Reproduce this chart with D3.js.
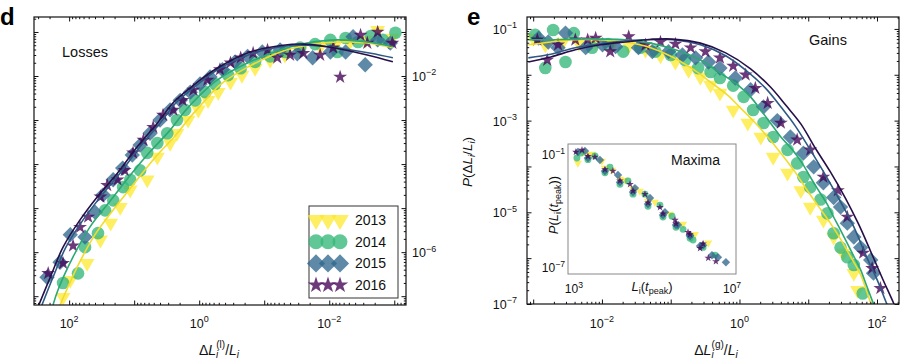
<!DOCTYPE html>
<html>
<head>
<meta charset="utf-8">
<script src="https://cdn.jsdelivr.net/npm/d3@7"></script>
<style>
  body { margin: 0; background: #fff; }
  svg { display: block; font-family: "Liberation Sans", Arial, Helvetica, sans-serif; }
</style>
</head>
<body>
<svg id="chart" width="900" height="363"></svg>
<script>
const years = ['2013', '2014', '2015', '2016'];

// panel d, losses: [ΔL/L, P]
const loss2013 = [[124,9.5e-8],[96,2.3e-7],[53,5.6e-7],[33,1.9e-6],[23,4.6e-6],[16.4,1.05e-5],[11.5,2.6e-5],[6.3,4.4e-5],[4.4,1.45e-4],[2.8,3.0e-4],[2.2,5.0e-4],[1.48,1.0e-3],[1.03,1.7e-3],[0.73,2.8e-3],[0.51,4.3e-3],[0.33,7.3e-3],[0.22,1.05e-2],[0.138,1.5e-2],[0.081,2.3e-2],[0.048,3.0e-2],[0.028,3.9e-2],[0.0138,4.6e-2],[0.0081,5.0e-2],[0.0048,5.9e-2],[0.0028,6.6e-2],[0.0018,0.11],[0.00107,7.3e-2]];
const loss2014 = [[124,2.0e-7],[73,3.3e-7],[57,1.3e-6],[36,2.7e-6],[28,8.9e-6],[21,1.5e-5],[14.8,3.0e-5],[11.5,4.4e-5],[8.1,7.2e-5],[6.3,1.8e-4],[4.4,3.0e-4],[3.1,5.0e-4],[2.2,1.0e-3],[1.65,1.7e-3],[1.15,2.8e-3],[0.81,4.3e-3],[0.57,6.6e-3],[0.36,1.05e-2],[0.23,1.5e-2],[0.138,2.1e-2],[0.081,2.8e-2],[0.048,3.5e-2],[0.028,4.4e-2],[0.0165,5.3e-2],[0.0096,6.6e-2],[0.0075,3.5e-2],[0.0056,7.3e-2],[0.0036,5.9e-2],[0.0023,8.1e-2],[0.0015,6.6e-2],[0.00096,9.6e-2]];
const loss2015 = [[219,2.7e-7],[138,5.9e-7],[96,2.5e-6],[57,2.2e-6],[40,8.1e-6],[30,2.0e-5],[21,4.4e-5],[15,8.1e-5],[10.7,1.6e-4],[8.1,2.7e-4],[5.7,5.0e-4],[4.0,1.0e-3],[2.8,1.7e-3],[1.96,2.8e-3],[1.37,4.3e-3],[0.97,6.6e-3],[0.68,9.5e-3],[0.44,1.4e-2],[0.28,2.1e-2],[0.18,2.8e-2],[0.107,3.5e-2],[0.057,3.9e-2],[0.031,3.2e-2],[0.018,2.6e-2],[0.0096,3.5e-2],[0.0056,3.5e-2],[0.0043,7.8e-2],[0.0028,1.8e-2],[0.0018,6.6e-2],[0.00115,5.6e-2]];
const loss2016 = [[210,3.3e-7],[124,5.6e-7],[87,1.4e-6],[68,3.7e-6],[51,6.3e-6],[33,1.8e-5],[26,3.3e-5],[18,4.4e-5],[14,7.2e-5],[10.4,1.8e-4],[7.2,3.5e-4],[5.1,6.9e-4],[3.6,1.3e-3],[2.5,1.7e-3],[1.8,2.8e-3],[1.23,4.8e-3],[0.75,8.1e-3],[0.48,1.4e-2],[0.33,2.0e-2],[0.23,2.6e-2],[0.148,3.3e-2],[0.089,3.9e-2],[0.063,2.6e-2],[0.040,3.0e-2],[0.025,3.3e-2],[0.0138,3.0e-2],[0.0087,4.4e-2],[0.0068,9.5e-3],[0.0033,8.5e-2],[0.0026,5.6e-2],[0.0018,0.1],[0.00107,5.6e-2]];

const lossFit2013 = [[138,6.3e-8],[73,5.0e-7],[40,2.5e-6],[19.5,1.05e-5],[9.6,3.9e-5],[4.8,1.4e-4],[2.34,4.4e-4],[1.37,1.17e-3],[0.81,2.8e-3],[0.48,6.3e-3],[0.165,1.7e-2],[0.051,3.7e-2],[0.022,5.0e-2],[0.0075,5.9e-2],[0.0026,5.6e-2],[0.00105,4.4e-2]];
const lossFit2014 = [[177,6.3e-8],[148,1.4e-7],[87,7.8e-7],[48,3.7e-6],[23,1.5e-5],[11.5,5.6e-5],[5.7,1.9e-4],[2.8,5.9e-4],[1.65,1.6e-3],[0.97,3.7e-3],[0.53,8.1e-3],[0.165,2.1e-2],[0.051,4.1e-2],[0.022,5.6e-2],[0.0075,6.6e-2],[0.0026,5.9e-2],[0.00105,4.6e-2]];
const lossFit2015 = [[288,4.4e-8],[177,2.7e-7],[112,1.3e-6],[61,5.4e-6],[33,1.8e-5],[16.4,6.3e-5],[8.1,2.5e-4],[4.0,8.5e-4],[2.26,2.5e-3],[1.48,4.3e-3],[0.87,8.1e-3],[0.48,1.5e-2],[0.148,3.3e-2],[0.046,4.8e-2],[0.0225,5.0e-2],[0.0078,4.4e-2],[0.0023,3.3e-2],[0.00105,2.6e-2]];
const lossFit2016 = [[323,4.4e-8],[195,2.7e-7],[124,1.3e-6],[68,5.4e-6],[37,1.8e-5],[18,6.3e-5],[8.9,2.5e-4],[4.4,8.5e-4],[2.5,2.5e-3],[1.65,4.3e-3],[0.97,8.1e-3],[0.53,1.5e-2],[0.165,3.5e-2],[0.051,5.0e-2],[0.025,5.3e-2],[0.0087,4.4e-2],[0.0026,3.0e-2],[0.00105,2.1e-2]];

// panel e, gains
const gain2013 = [[1.0e-3,0.063],[1.5e-3,0.045],[2.7e-3,0.052],[4.6e-3,0.049],[8.1e-3,0.052],[0.0141,0.047],[0.0245,0.043],[0.043,0.035],[0.071,0.026],[0.117,0.019],[0.182,0.0126],[0.27,0.0089],[0.38,0.006],[0.52,0.004],[0.81,0.0017],[1.32,8.9e-4],[2.04,4.4e-4],[3.09,1.6e-4],[5.0,7.2e-5],[7.8,3.0e-5],[10.7,1.3e-5],[16.6,6.8e-6],[23.4,2.9e-6],[32,1.3e-6],[46,4.7e-7],[52,2.0e-7]];
const gain2014 = [[1.07e-3,0.074],[1.5e-3,0.0141],[1.95e-3,0.095],[2.95e-3,0.019],[3.9e-3,0.081],[7.2e-3,0.039],[0.0123,0.047],[0.0204,0.032],[0.036,0.039],[0.060,0.032],[0.1,0.027],[0.162,0.021],[0.25,0.014],[0.38,0.0115],[0.52,0.0085],[0.81,0.0058],[1.15,0.0033],[1.58,0.0017],[2.24,8.9e-4],[3.09,4.4e-4],[5.0,2.3e-4],[6.9,1.17e-4],[8.5,5.9e-5],[10.7,3.5e-5],[15.1,1.9e-5],[19,9.5e-6],[23.4,3.5e-6],[29.5,1.7e-6],[37,1.05e-6],[46,7.1e-7],[62,1.7e-7]];
const gain2015 = [[1.2e-3,0.063],[1.66e-3,0.052],[2.3e-3,0.039],[2.95e-3,0.081],[5.8e-3,0.039],[0.0102,0.045],[0.0158,0.041],[0.034,0.039],[0.054,0.032],[0.093,0.032],[0.148,0.027],[0.23,0.0234],[0.355,0.019],[0.52,0.014],[0.87,0.0085],[1.45,0.0047],[2.24,0.002],[3.55,0.001],[5.5,4.4e-4],[8.5,1.95e-4],[12,9.8e-5],[16.6,4.4e-5],[23.4,2.1e-5],[29.5,1.3e-5],[37,5.8e-6],[46,2.9e-6],[58,1.7e-6],[81,9.1e-7],[89,4.7e-7]];
const gain2016 = [[1.15e-3,0.058],[1.6e-3,0.021],[2.3e-3,0.045],[4.1e-3,0.058],[6.2e-3,0.058],[8.1e-3,0.063],[0.0132,0.032],[0.0245,0.068],[0.043,0.045],[0.071,0.052],[0.117,0.047],[0.195,0.039],[0.32,0.032],[0.52,0.0234],[0.81,0.0155],[1.23,0.01],[1.7,0.0051],[2.57,0.0024],[4.0,8.9e-4],[6.9,3.8e-4],[10.7,2.3e-4],[16.6,5.9e-5],[27,3.0e-5],[37,7.9e-6],[63,1.3e-6],[85,6.0e-7],[112,2.2e-7]];

const gainFit2013 = [[8.5e-4,0.045],[1.8e-3,0.052],[4.1e-3,0.058],[9.5e-3,0.058],[0.0219,0.052],[0.051,0.039],[0.106,0.0245],[0.221,0.0126],[0.38,0.0069],[0.67,0.0036],[1.03,0.0019],[1.65,9.3e-4],[2.57,4.4e-4],[4.0,1.95e-4],[6.3,7.9e-5],[9.7,3.0e-5],[13.6,1.45e-5],[21,5.8e-6],[29.5,2.6e-6],[41,1.1e-6],[58,4.3e-7],[70,2.0e-7],[83,9.3e-8],[92,5.8e-8]];
const gainFit2014 = [[8.5e-4,0.058],[1.8e-3,0.058],[4.1e-3,0.060],[9.5e-3,0.060],[0.0219,0.058],[0.051,0.049],[0.117,0.035],[0.27,0.021],[0.52,0.011],[0.97,0.0058],[1.45,0.0033],[2.04,0.0017],[2.82,8.9e-4],[4.0,4.4e-4],[5.9,2.3e-4],[8.2,1.17e-4],[10.7,5.9e-5],[14.1,3.0e-5],[18.4,1.6e-5],[23.4,7.9e-6],[29.5,4.1e-6],[37,2.1e-6],[46,1.1e-6],[58,5.5e-7],[70,2.6e-7],[85,1.2e-7],[98,6.6e-8]];
const gainFit2015 = [[8.5e-4,0.0234],[1.8e-3,0.028],[4.1e-3,0.039],[9.5e-3,0.047],[0.0219,0.055],[0.051,0.059],[0.106,0.058],[0.27,0.045],[0.63,0.026],[1.23,0.0126],[2.39,0.0051],[4.1,0.0019],[6.5,7.6e-4],[10.7,2.3e-4],[17.8,6.5e-5],[29.5,1.7e-5],[46,4.8e-6],[68,1.2e-6],[102,3.2e-7],[142,9.3e-8],[168,5.4e-8]];
const gainFit2016 = [[8.5e-4,0.019],[1.8e-3,0.0245],[4.1e-3,0.035],[9.5e-3,0.045],[0.0219,0.052],[0.051,0.059],[0.106,0.060],[0.27,0.049],[0.63,0.030],[1.45,0.0135],[2.82,0.0054],[4.8,0.0021],[7.8,8.5e-4],[12.7,2.5e-4],[21,7.6e-5],[35,2.0e-5],[54,5.5e-6],[81,1.4e-6],[120,3.6e-7],[174,1.05e-7],[204,5.8e-8]];

// inset, maxima: [L(t_peak), P]
const max2013 = [[1260,0.033],[1690,0.128],[2260,0.088],[2860,0.1],[5100,0.042],[6100,0.018],[9160,0.014],[14600,4.6e-3],[19500,0.0041],[31200,1.4e-3],[46800,1.08e-3],[74700,3.2e-4],[112000,2.8e-4],[269000,6.5e-5],[575000,1.9e-5],[1.15e6,5.5e-6],[2.5e6,1.9e-6]];
const max2014 = [[1190,0.061],[1500,0.113],[2260,0.05],[3400,0.078],[6100,0.01],[8150,0.020],[14600,2.5e-3],[23300,3.7e-3],[31200,7.4e-4],[62700,7.4e-4],[74700,1.7e-4],[150000,1.9e-4],[179000,4.5e-5],[303000,5.0e-5],[382000,1.3e-5],[575000,1.0e-5],[865000,3.4e-6],[1.03e6,2.7e-6],[1.74e6,1.3e-6],[1.85e6,1.1e-6],[3.7e6,4.3e-7]];
const max2015 = [[1260,0.128],[1900,0.145],[2260,0.061],[4550,0.048],[6100,0.0125],[13000,7.6e-3],[14600,3.2e-3],[31200,9.5e-4],[35000,1.55e-3],[74700,2.2e-4],[84000,4.6e-4],[179000,5.7e-5],[201000,8.2e-5],[382000,1.7e-5],[430000,1.7e-5],[865000,4.9e-6],[865000,4.4e-6],[1.55e6,1.3e-6],[1.85e6,1.45e-6],[3.1e6,4.2e-7],[4.4e6,3.3e-7],[7.0e6,1.8e-7]];
const max2016 = [[1120,0.128],[1600,0.163],[2260,0.075],[3400,0.069],[6100,0.015],[9700,0.0125],[14600,3.8e-3],[26200,2.5e-3],[31200,1.1e-3],[62700,7.4e-4],[74700,2.6e-4],[150000,1.5e-4],[179000,6.8e-5],[361000,3.1e-5],[382000,2.0e-5],[770000,7.1e-6],[865000,5.3e-6],[1.55e6,1.0e-6],[1.85e6,1.7e-6],[2.5e6,3.0e-7],[3.9e6,2.0e-7]];

const lossTickLabelsX = [1e2, 1e0, 1e-2];
const lossTickLabelsY = [1e-2, 1e-6];
const gainTickLabelsX = [1e-2, 1e0, 1e2];
const gainTickLabelsY = [1e-1, 1e-3, 1e-5, 1e-7];
const maxTickLabelsX = [1e3, 1e7];
const maxTickLabelsY = [1e-1, 1e-7];

const fills = ['#fde725', '#35b779', '#31688e', '#440154'];
const lineColors = ['#f1dc2c', '#2ba873', '#2d5a84', '#26104a'];
const symTypes = [d3.symbolTriangle, d3.symbolCircle, d3.symbolSquare, d3.symbolStar];
const symSizes = [95, 125, 118, 60];
const symRot = [180, 0, 45, 0];

const svg = d3.select('#chart');

function drawPoints(g, data, i, x, y, k) {
  g.append('g').selectAll('path')
    .data(data)
    .join('path')
    .attr('d', d3.symbol().type(symTypes[i]).size(symSizes[i] * k))
    .attr('transform', d => `translate(${x(d[0])},${y(d[1])}) rotate(${symRot[i]})`)
    .attr('fill', fills[i])
    .attr('fill-opacity', i === 0 ? 0.72 : 0.78);
}

function drawFit(g, data, i, x, y) {
  const line = d3.line().x(d => x(d[0])).y(d => y(d[1])).curve(d3.curveCatmullRom.alpha(0.5));
  g.append('path')
    .datum(data)
    .attr('d', line)
    .attr('fill', 'none')
    .attr('stroke', lineColors[i])
    .attr('stroke-width', 1.6);
}

const isMajor = t => Math.abs(Math.log10(t) - Math.round(Math.log10(t))) < 1e-6;

function boxTicks(g, x, y) {
  const [xl, xr] = d3.extent(x.range());
  const [yt, yb] = d3.extent(y.range());
  const sides = [
    [d3.axisBottom(x), `translate(0,${yb})`, x.ticks()],
    [d3.axisTop(x), `translate(0,${yt})`, x.ticks()],
    [d3.axisLeft(y), `translate(${xl},0)`, y.ticks()],
    [d3.axisRight(y), `translate(${xr},0)`, y.ticks()]
  ];
  sides.forEach(([ax, tr, ticks]) => {
    [[ticks.filter(isMajor), -4.5], [ticks.filter(t => !isMajor(t)), -2.2]].forEach(([vals, len]) => {
      g.append('g')
        .attr('transform', tr)
        .call(ax.tickValues(vals).tickSize(len).tickFormat(''))
        .call(s => s.select('.domain').remove())
        .selectAll('line').attr('stroke', '#111');
    });
  });
  g.append('rect')
    .attr('x', xl).attr('y', yt)
    .attr('width', xr - xl).attr('height', yb - yt)
    .attr('fill', 'none').attr('stroke', '#111').attr('stroke-width', 1.2);
}

function powLabel(g, px, py, v, anchor, fs) {
  const e = Math.round(Math.log10(v));
  const t = g.append('text')
    .attr('x', px).attr('y', py)
    .attr('text-anchor', anchor)
    .attr('font-size', fs)
    .attr('fill', '#111');
  t.append('tspan').text('10');
  t.append('tspan').attr('dy', -fs * 0.45).attr('font-size', fs * 0.72)
    .text(e < 0 ? '\u2212' + (-e) : String(e));
}

function deltaTitle(g, px, py, sup) {
  const t = g.append('text').attr('x', px).attr('y', py)
    .attr('text-anchor', 'middle').attr('font-size', 14).attr('fill', '#111');
  t.append('tspan').text('\u0394');
  t.append('tspan').attr('font-style', 'italic').text('L');
  t.append('tspan').attr('font-style', 'italic').attr('font-size', 10).attr('dy', 3).text('i');
  t.append('tspan').attr('font-size', 10).attr('dx', -2).attr('dy', -10).text(sup);
  t.append('tspan').attr('dy', 7).text('/');
  t.append('tspan').attr('font-style', 'italic').text('L');
  t.append('tspan').attr('font-style', 'italic').attr('font-size', 10).attr('dy', 3).text('i');
}

function clipped(id, x, y) {
  const [xl, xr] = d3.extent(x.range());
  const [yt, yb] = d3.extent(y.range());
  svg.append('clipPath').attr('id', id)
    .append('rect').attr('x', xl).attr('y', yt).attr('width', xr - xl).attr('height', yb - yt);
  return svg.append('g').attr('clip-path', `url(#${id})`);
}

// ---------- panel d: losses ----------
const lossX = d3.scaleLog().domain([347, 6.6e-4]).range([34, 406]);
const lossY = d3.scaleLog().domain([6.31e-8, 0.2188]).range([305, 17]);

const gd = clipped('clip-d', lossX, lossY);
[loss2013, loss2014, loss2015, loss2016].forEach((s, i) => drawPoints(gd, s, i, lossX, lossY, 1));
[lossFit2013, lossFit2014, lossFit2015, lossFit2016].forEach((s, i) => drawFit(gd, s, i, lossX, lossY));

const ad = svg.append('g');
boxTicks(ad, lossX, lossY);
lossTickLabelsX.forEach(v => powLabel(ad, lossX(v), 328, v, 'middle', 12.5));
lossTickLabelsY.forEach(v => powLabel(ad, 412, lossY(v) + 5, v, 'start', 12.5));
deltaTitle(ad, 219, 355, '(l)');

ad.append('text').attr('x', 0).attr('y', 25).attr('font-size', 24).attr('font-weight', 'bold').text('d');
ad.append('text').attr('x', 62).attr('y', 57).attr('font-size', 14.5).attr('fill', '#111').text('Losses');

// legend
const leg = ad.append('g');
leg.append('rect').attr('x', 309).attr('y', 206).attr('width', 89).attr('height', 92)
  .attr('fill', '#fff').attr('stroke', '#333').attr('stroke-width', 1);
years.forEach((yr, i) => {
  const cy = 220 + i * 21.7;
  [316, 328, 340].forEach(cx => {
    leg.append('path')
      .attr('d', d3.symbol().type(symTypes[i]).size(symSizes[i] * 1.4))
      .attr('transform', `translate(${cx},${cy}) rotate(${symRot[i]})`)
      .attr('fill', fills[i]).attr('fill-opacity', i === 0 ? 0.72 : 0.78);
  });
  leg.append('text').attr('x', 355).attr('y', cy + 5).attr('font-size', 14).attr('fill', '#111').text(yr);
});

// ---------- panel e: gains ----------
const gainX = d3.scaleLog().domain([8.13e-4, 208.9]).range([527, 899]);
const gainY = d3.scaleLog().domain([1e-7, 0.182]).range([304, 17]);

const ge = clipped('clip-e', gainX, gainY);
[gain2013, gain2014, gain2015, gain2016].forEach((s, i) => drawPoints(ge, s, i, gainX, gainY, 1));
[gainFit2013, gainFit2014, gainFit2015, gainFit2016].forEach((s, i) => drawFit(ge, s, i, gainX, gainY));

const ae = svg.append('g');
boxTicks(ae, gainX, gainY);
gainTickLabelsX.forEach(v => powLabel(ae, gainX(v), 328, v, 'middle', 12.5));
gainTickLabelsY.forEach(v => powLabel(ae, 517, gainY(v) + 5, v, 'end', 12.5));
deltaTitle(ae, 716, 355, '(g)');

ae.append('text').attr('x', 467).attr('y', 25).attr('font-size', 24).attr('font-weight', 'bold').text('e');
ae.append('text').attr('x', 809).attr('y', 45).attr('font-size', 14.5).attr('fill', '#111').text('Gains');

const yTitle = ae.append('text')
  .attr('transform', 'translate(472,162) rotate(-90)')
  .attr('text-anchor', 'middle').attr('font-size', 13.5).attr('fill', '#111');
yTitle.append('tspan').attr('font-style', 'italic').text('P');
yTitle.append('tspan').text('(\u0394');
yTitle.append('tspan').attr('font-style', 'italic').text('L');
yTitle.append('tspan').attr('font-style', 'italic').attr('font-size', 9.5).attr('dy', 3).text('i');
yTitle.append('tspan').attr('dy', -3).text('/');
yTitle.append('tspan').attr('font-style', 'italic').text('L');
yTitle.append('tspan').attr('font-style', 'italic').attr('font-size', 9.5).attr('dy', 3).text('i');
yTitle.append('tspan').attr('dy', -3).text(')');

// ---------- inset: maxima ----------
const maxX = d3.scaleLog().domain([708, 1.259e7]).range([568, 736]);
const maxY = d3.scaleLog().domain([4.27e-8, 0.339]).range([274, 144]);

svg.append('rect').attr('x', 568).attr('y', 144).attr('width', 168).attr('height', 130)
  .attr('fill', '#fff').attr('stroke', '#888').attr('stroke-width', 1);
const gi = clipped('clip-i', maxX, maxY);
[max2013, max2014, max2015, max2016].forEach((s, i) => drawPoints(gi, s, i, maxX, maxY, 0.3));

const ai = svg.append('g');
maxTickLabelsX.forEach(v => powLabel(ai, maxX(v), 293, v, 'middle', 12));
maxTickLabelsY.forEach(v => powLabel(ai, 565, maxY(v) + 5, v, 'end', 12));
ai.append('text').attr('x', 671).attr('y', 165).attr('font-size', 14).attr('fill', '#111').text('Maxima');

const ix = ai.append('text').attr('x', 652).attr('y', 291)
  .attr('text-anchor', 'middle').attr('font-size', 13).attr('fill', '#111');
ix.append('tspan').attr('font-style', 'italic').text('L');
ix.append('tspan').attr('font-size', 9).attr('dy', 3).text('i');
ix.append('tspan').attr('dy', -3).text('(');
ix.append('tspan').attr('font-style', 'italic').text('t');
ix.append('tspan').attr('font-size', 9).attr('dy', 3).text('peak');
ix.append('tspan').attr('dy', -3).text(')');

const iy = ai.append('text').attr('transform', 'translate(558,205) rotate(-90)')
  .attr('text-anchor', 'middle').attr('font-size', 13).attr('fill', '#111');
iy.append('tspan').attr('font-style', 'italic').text('P');
iy.append('tspan').text('(');
iy.append('tspan').attr('font-style', 'italic').text('L');
iy.append('tspan').attr('font-size', 9).attr('dy', 3).text('i');
iy.append('tspan').attr('dy', -3).text('(');
iy.append('tspan').attr('font-style', 'italic').text('t');
iy.append('tspan').attr('font-size', 9).attr('dy', 3).text('peak');
iy.append('tspan').attr('dy', -3).text('))');
</script>
</body>
</html>
